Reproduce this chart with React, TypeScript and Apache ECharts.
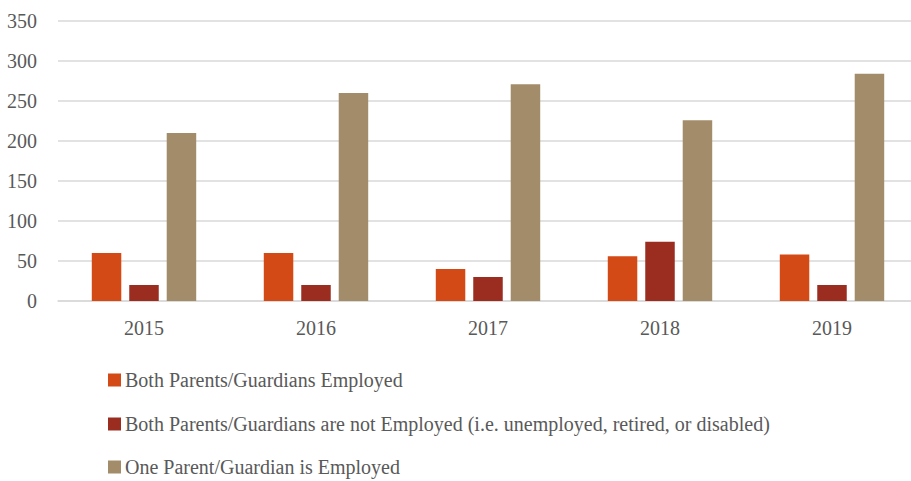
import React, { useEffect, useRef } from "react";
import * as echarts from "echarts";

const years = ["2015", "2016", "2017", "2018", "2019"];
const bothEmployed = [60, 60, 40, 56, 58];
const bothNotEmployed = [20, 20, 30, 74, 20];
const oneEmployed = [210, 260, 271, 226, 284];
const seriesNames = [
  "Both Parents/Guardians Employed",
  "Both Parents/Guardians are not Employed (i.e. unemployed, retired, or disabled)",
  "One Parent/Guardian is Employed",
];
const colors = ["#D34A17", "#9B2D20", "#A38C69"];

const FONT = "'Liberation Serif', 'DejaVu Serif', serif";

export default function App() {
  const ref = useRef<HTMLDivElement>(null);
  useEffect(() => {
    if (!ref.current) return;
    const chart = echarts.init(ref.current, null, { renderer: "svg" });
    const data = [bothEmployed, bothNotEmployed, oneEmployed];
    const legendTops = [370, 414, 457];
    chart.setOption({
      animation: false,
      color: colors,
      grid: { left: 58, width: 860, top: 21, height: 280, containLabel: false, outerBoundsMode: "none" },
      legend: seriesNames.map((name, i) => ({
        orient: "horizontal",
        left: 108,
        top: legendTops[i],
        padding: 0,
        itemWidth: 13,
        itemHeight: 13,
        icon: "rect",
        textStyle: { fontFamily: FONT, fontSize: 20, color: "#595959", padding: [0, 0, 0, -1] },
        data: [name],
      })),
      xAxis: {
        type: "category",
        data: years,
        axisLine: { show: true, lineStyle: { color: "#D9D9D9", width: 1.5 } },
        axisTick: { show: false },
        axisLabel: { fontFamily: FONT, fontSize: 20, color: "#595959", margin: 17 },
      },
      yAxis: {
        type: "value",
        min: 0,
        max: 350,
        interval: 50,
        axisLine: { show: false },
        axisTick: { show: false },
        splitLine: { lineStyle: { color: "#D9D9D9", width: 1.5 } },
        axisLabel: { fontFamily: FONT, fontSize: 20, color: "#595959", margin: 21 },
      },
      series: seriesNames.map((name, i) => ({
        name,
        type: "bar",
        data: data[i],
        barWidth: 29.5,
        barGap: "27%",
        itemStyle: { color: colors[i] },
      })),
    });
    return () => chart.dispose();
  }, []);
  return <div ref={ref} style={{ width: 911, height: 481, position: "absolute", left: 0, top: 0 }} />;
}
